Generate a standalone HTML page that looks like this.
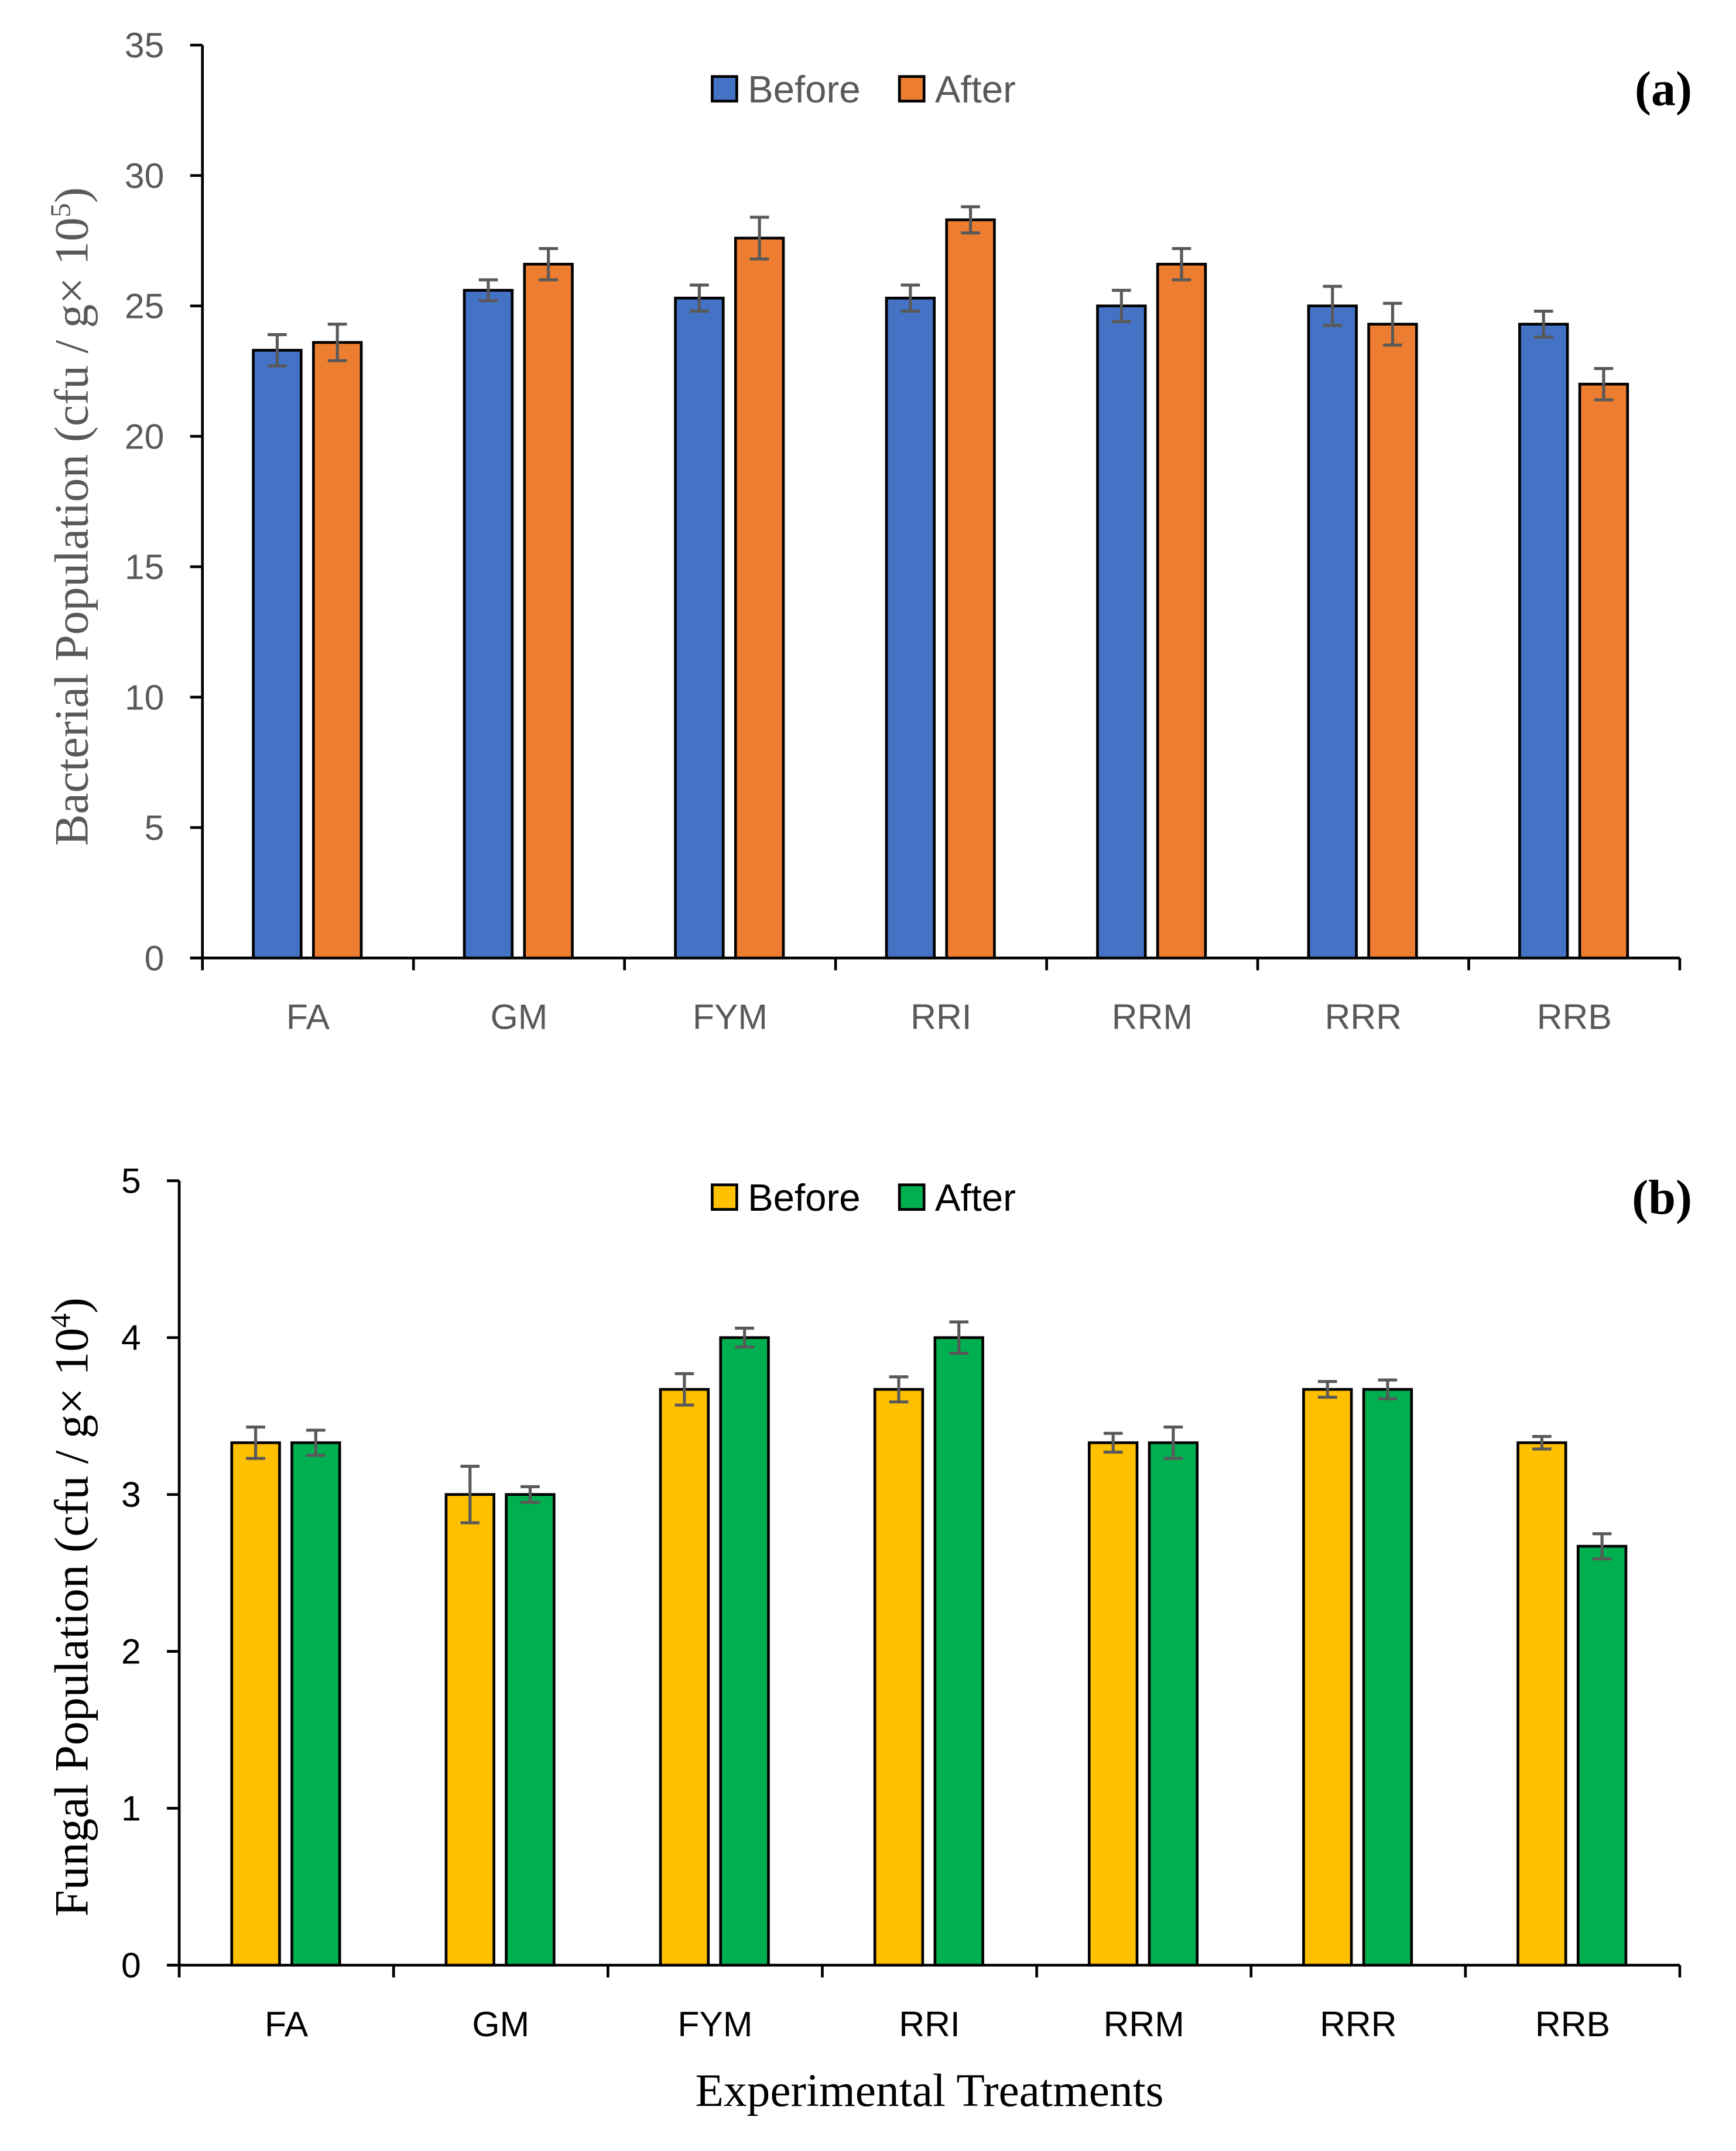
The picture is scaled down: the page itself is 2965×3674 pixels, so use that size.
<!DOCTYPE html>
<html><head><meta charset="utf-8"><style>
html,body{margin:0;padding:0;background:#fff}
svg{display:block}
.s{font-family:"Liberation Sans",sans-serif}
.r{font-family:"Liberation Serif",serif}
</style></head><body>
<svg id="c" width="2965" height="3674" viewBox="0 0 1270 1574" xmlns="http://www.w3.org/2000/svg">
<rect width="1270" height="1574" fill="#fff"/>
</svg>
<script>
const categories=["FA","GM","FYM","RRI","RRM","RRR","RRB"];
const bactBefore=[23.3,25.6,25.3,25.3,25.0,25.0,24.3];
const bactAfter=[23.6,26.6,27.6,28.3,26.6,24.3,22.0];
const bactBeforeErr=[0.6,0.4,0.5,0.5,0.6,0.75,0.5];
const bactAfterErr=[0.7,0.6,0.8,0.5,0.6,0.8,0.6];
const bactTicks=[0,5,10,15,20,25,30,35];
const fungBefore=[3.33,3.0,3.67,3.67,3.33,3.67,3.33];
const fungAfter=[3.33,3.0,4.0,4.0,3.33,3.67,2.67];
const fungBeforeErr=[0.1,0.18,0.1,0.08,0.06,0.05,0.04];
const fungAfterErr=[0.08,0.05,0.06,0.1,0.1,0.06,0.08];
const fungTicks=[0,1,2,3,4,5];

const svg=document.getElementById('c');
const NS='http://www.w3.org/2000/svg';
function mk(tag,attrs,text){const e=document.createElementNS(NS,tag);for(const k in attrs)e.setAttribute(k,attrs[k]);if(text!==undefined)e.textContent=text;svg.appendChild(e);return e;}

function chart(o){
  const yS=v=>o.y0-(v/o.max)*(o.y0-o.yTop);
  const cw=(o.xR-o.x0)/categories.length;
  const xC=i=>o.x0+cw*(i+0.5);
  let e=mk('line',{x1:o.x0,y1:o.yTop,x2:o.x0,y2:o.y0,stroke:'#000','stroke-width':2});
  
  
  e=mk('line',{x1:o.x0-9,y1:o.y0,x2:o.xR,y2:o.y0,stroke:'#000','stroke-width':2});
  
  
  o.ticks.forEach(t=>{
    const y=yS(t);
    let l=mk('line',{x1:o.x0-9,y1:y,x2:o.x0,y2:y,stroke:'#000','stroke-width':2});
    
    
    let tx=mk('text',{x:o.x0-28,y:y+9,'text-anchor':'end','font-size':26,fill:o.tickColor,class:'s'},String(t));
    
    
  });
  for(let i=0;i<=categories.length;i++){
    const x=o.x0+cw*i;
    let l=mk('line',{x1:x,y1:o.y0,x2:x,y2:o.y0+9,stroke:'#000','stroke-width':2});
    
    
  }
  categories.forEach((c,i)=>{
    const xc=xC(i);
    [[o.b,o.be,o.c1,-40,'before'],[o.a,o.ae,o.c2,4,'after']].forEach(([vals,errs,col,off,nm])=>{
      const v=vals[i],y=yS(v);
      let r=mk('rect',{x:xc+off,y:y,width:35,height:o.y0-y,fill:col,stroke:'#000','stroke-width':2});
      
      
      const ex=xc+off+17.5,y1=yS(v+errs[i]),y2=yS(v-errs[i]);
      let p=mk('path',{d:`M${ex-7},${y1}H${ex+7}M${ex},${y1}V${y2}M${ex-7},${y2}H${ex+7}`,stroke:'#595959','stroke-width':2.2,fill:'none'});
      
      
    });
    let t=mk('text',{x:xc,y:o.y0+52,'text-anchor':'middle','font-size':26,fill:o.tickColor,class:'s'},c);
    
    
  });
  const ly=o.legY;
  let g=mk('rect',{x:521,y:ly-9,width:18,height:18,fill:o.c1,stroke:'#000','stroke-width':2});
  
  
  g=mk('text',{x:547,y:ly+10,'font-size':28,fill:o.tickColor,class:'s'},'Before');
  
  
  g=mk('rect',{x:658,y:ly-9,width:18,height:18,fill:o.c2,stroke:'#000','stroke-width':2});
  
  
  g=mk('text',{x:684,y:ly+10,'font-size':28,fill:o.tickColor,class:'s'},'After');
  
  
  g=mk('text',{x:1238,y:ly+12,'text-anchor':'end','font-size':36,'font-weight':'bold',fill:'#000',class:'r'},o.tag);
  
  
  const cy=o.titleCy;
  g=mk('text',{x:0,y:0,transform:`translate(64,${cy}) rotate(-90)`,'text-anchor':'middle','font-size':35,fill:o.titleColor,class:'r'});
  g.innerHTML=o.title+'<tspan dy="-13" font-size="21">'+o.exp+'</tspan><tspan dy="13">)</tspan>';
  
  
}
chart({id:'bacterial',x0:148,xR:1229,yTop:33,y0:701,max:35,ticks:bactTicks,b:bactBefore,a:bactAfter,be:bactBeforeErr,ae:bactAfterErr,c1:'#4472c4',c2:'#ed7d31',tickColor:'#595959',titleColor:'#595959',legY:65,tag:'(a)',title:'Bacterial Population (cfu / g× 10',exp:'5',titleCy:378});
chart({id:'fungal',x0:131,xR:1229,yTop:864,y0:1438,max:5,ticks:fungTicks,b:fungBefore,a:fungAfter,be:fungBeforeErr,ae:fungAfterErr,c1:'#ffc000',c2:'#00b050',tickColor:'#000',titleColor:'#000',legY:876,tag:'(b)',title:'Fungal Population (cfu / g× 10',exp:'4',titleCy:1176});
let xt=mk('text',{x:680,y:1541,'text-anchor':'middle','font-size':34,fill:'#000',class:'r'},'Experimental Treatments');


</script>
</body></html>
